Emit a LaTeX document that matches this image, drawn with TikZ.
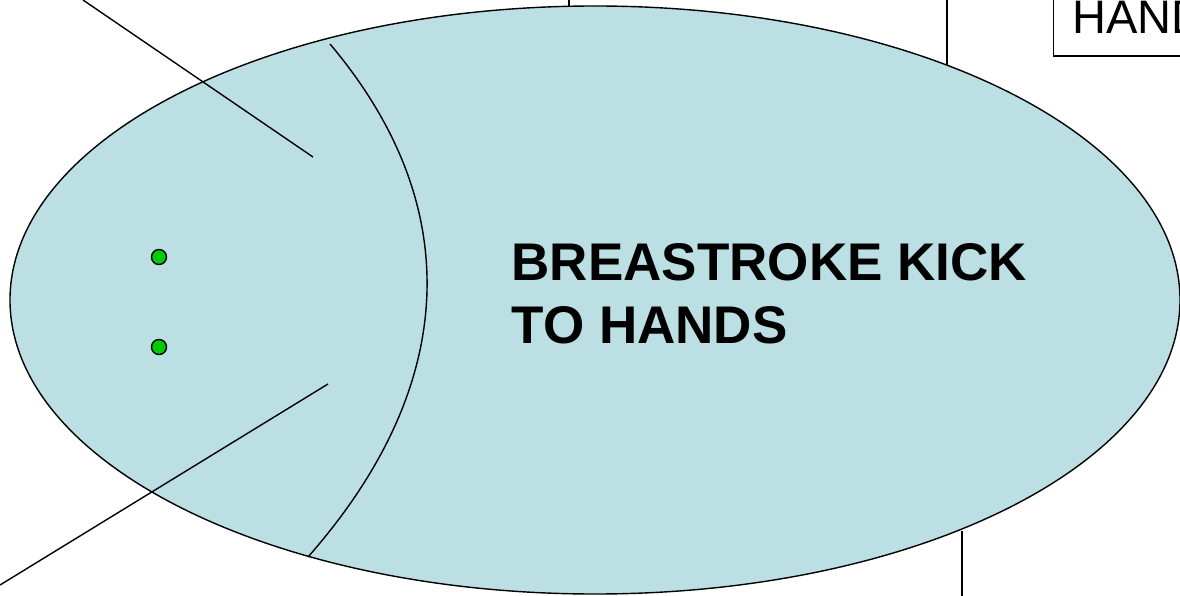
\documentclass[tikz,border=0pt]{standalone}
\usepackage{fontspec}
\setmainfont{Liberation Sans}
\usetikzlibrary{positioning}
\definecolor{cpool}{HTML}{BBDFE3}
\definecolor{cdot}{HTML}{00CC00}
\tikzset{
  every picture/.style={line width=1.4pt},
  pool/.style={draw=black, fill=cpool},
  dot/.style={circle, draw=black, fill=cdot, minimum size=15pt, inner sep=0pt},
  lead/.style={draw=black},
  title/.style={font=\fontsize{53}{63}\selectfont\bfseries, align=left, inner sep=0pt},
  tag/.style={draw=black, font=\fontsize{47}{56}\selectfont, text depth=0pt, inner xsep=19pt, inner ysep=22pt},
}
\begin{document}
\begin{tikzpicture}[x=1pt, y=-1pt]
  \useasboundingbox (0,0) rectangle (1180,596);
  \clip (0,0) rectangle (1180,596);
  % leads running out of the frame
  \coordinate (topin) at (569,7);
  \coordinate (topout) at (569,0);
  \coordinate (rightin) at (947,66);
  \coordinate (rightout) at (947,0);
  \coordinate (lowin) at (962,531);
  \coordinate (lowout) at (962,596);
  \draw[lead] (topout) -- (topin);
  \draw[lead] (rightout) -- (rightin);
  \draw[lead] (lowout) -- (lowin);
  % the pool
  \draw[pool] (595,300) ellipse [x radius=585, y radius=294];
  \draw (330,44) .. controls (470,210) and (455,390) .. (308,557);
  \node[dot] (dotup) at (159,257) {};
  \node[dot] (dotdown) at (159,347) {};
  \coordinate (armup) at (313,157);
  \coordinate (armupout) at (83,0);
  \coordinate (armdown) at (328,384);
  \coordinate (armdownout) at (0,585);
  \draw[lead] (armupout) -- (armup);
  \draw[lead] (armdownout) -- (armdown);
  \node[title, anchor=base west] (kick) at (511,343) {BREASTROKE KICK\\TO HANDS};
  \node[tag, anchor=base west] (hands) at (1053,34) {HANDS};
\end{tikzpicture}
\end{document}
